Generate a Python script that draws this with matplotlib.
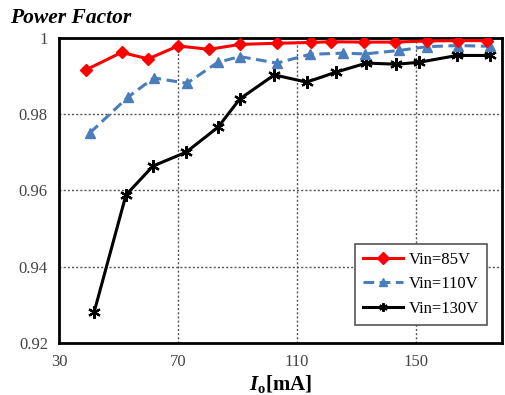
import matplotlib
matplotlib.use('Agg')
import matplotlib.pyplot as plt
from matplotlib.ticker import FuncFormatter

plt.rcParams['font.family'] = ['Liberation Serif', 'DejaVu Serif']
plt.rcParams['mathtext.fontset'] = 'custom'
plt.rcParams['mathtext.rm'] = 'Liberation Serif'
plt.rcParams['mathtext.it'] = 'Liberation Serif:italic:bold'
plt.rcParams['mathtext.bf'] = 'Liberation Serif:bold'

# output current [mA] and power factor for each input voltage
io_85 = [39, 51, 60, 70, 80.5, 90.8, 103.2, 114.7, 121.6, 132.5, 142.9, 153.7, 164.1, 173.9]
pf_85 = [0.9916, 0.9962, 0.9945, 0.9979, 0.9970, 0.9983, 0.9986, 0.9988, 0.9990, 0.9989,
         0.9989, 0.9992, 0.9993, 0.9993]

io_110 = [40.4, 53.2, 61.9, 73.0, 83.4, 90.8, 103.3, 114.4, 125.5, 132.9, 144.3, 153.7, 164.1, 174.9]
pf_110 = [0.9751, 0.9845, 0.9895, 0.9881, 0.9936, 0.9951, 0.9934, 0.9957, 0.9960, 0.9958,
          0.9967, 0.9977, 0.9980, 0.9978]

io_130 = [41.8, 52.5, 61.6, 72.7, 83.5, 90.8, 102.4, 113.3, 123.1, 133.4, 143.5, 151.1, 163.9, 174.9]
pf_130 = [0.9281, 0.9588, 0.9664, 0.9700, 0.9766, 0.9840, 0.9903, 0.9884, 0.9910, 0.9934,
          0.9931, 0.9936, 0.9954, 0.9954]

fig = plt.figure(figsize=(5.05, 3.95), dpi=100)
ax = fig.add_axes([0.117, 0.132, 0.877, 0.772])

ax.plot(io_85, pf_85, color='#ff0000', lw=2.2, marker='D', ms=6.5, label='Vin=85V', zorder=5)
ax.plot(io_110, pf_110, color='#4a7ebb', lw=2.2, ls=(0, (3.5, 1.8)), marker='^', ms=7,
        label='Vin=110V', zorder=4)
ax.plot(io_130, pf_130, color='black', lw=2.2, marker=(6, 2, 0), ms=9, mew=1.6,
        label='Vin=130V', zorder=3)

ax.set_xlim(30, 179)
ax.set_ylim(0.92, 1.0)
ax.set_xticks([30, 70, 110, 150])
ax.set_yticks([0.92, 0.94, 0.96, 0.98, 1.0])
ax.yaxis.set_major_formatter(FuncFormatter(lambda v, p: '{:g}'.format(round(v, 2))))
ax.tick_params(length=0, labelsize=12, labelcolor='#444444', pad=8)
ax.grid(True, color='#555555', ls=(0, (1.5, 1.5)), lw=1)
for s in ax.spines.values():
    s.set_linewidth(2)

ax.set_xlabel(r'$\mathit{I}_{\mathbf{o}}$[mA]', fontsize=15, fontweight='bold', labelpad=2)
fig.text(0.02, 0.955, 'Power Factor', fontsize=15.5, fontweight='bold', style='italic', va='center')

leg = ax.legend(loc='lower right', bbox_to_anchor=(0.966, 0.059), borderaxespad=0, fontsize=12,
                handlelength=2.4, fancybox=False, framealpha=1, edgecolor='#555555',
                borderpad=0.5, labelspacing=0.5, handletextpad=0.3)
leg.get_frame().set_linewidth(1.2)
for h in leg.legend_handles:
    h.set_markersize(6)

fig.savefig('out.png', dpi=100)
